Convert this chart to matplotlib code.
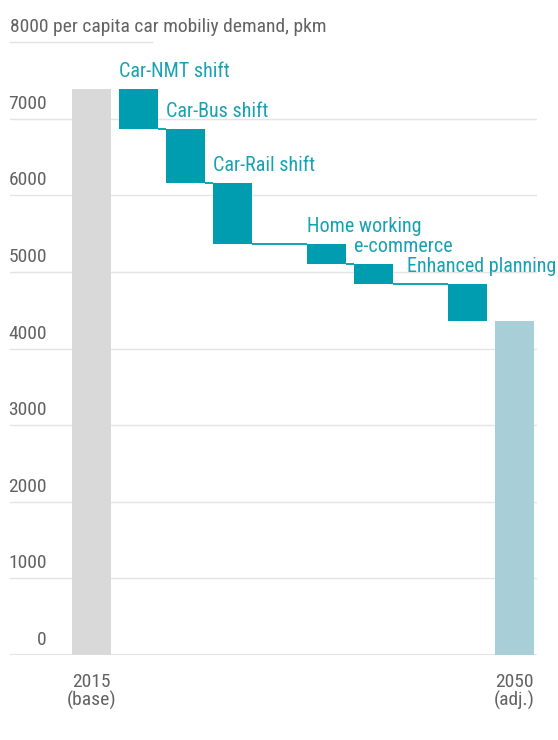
import matplotlib
matplotlib.use("Agg")
import matplotlib.pyplot as plt
from matplotlib import font_manager as fm
from matplotlib.transforms import blended_transform_factory, ScaledTranslation

# ---- data ----
base_label = "2015\n(base)"
final_label = "2050\n(adj.)"
base_value = 7390
step_labels = ["Car-NMT shift", "Car-Bus shift", "Car-Rail shift", "",
               "Home working", "e-commerce", "", "Enhanced planning"]
step_values = [-525, -700, -805, 0, -255, -265, 0, -475]
y_ticks = [0, 1000, 2000, 3000, 4000, 5000, 6000, 7000]
y_title = "8000 per capita car mobiliy demand, pkm"

# ---- font choice: prefer a narrow sans ----
def _is_regular(f):
    return f.style == "normal" and f.weight in (400, "normal", "regular")

cands = []
for f in fm.fontManager.ttflist:
    nm = f.name
    if not _is_regular(f) or "Mono" in nm or "Serif" in nm:
        continue
    cond = (f.stretch in ("condensed", "semi-condensed")
            or "Condensed" in nm or "Narrow" in nm)
    if not cond or "Extra" in nm or "Semi" in nm:
        continue
    if "Roboto" in nm:
        rank = 0
    elif "Noto" in nm:
        rank = 1
    elif "Open" in nm:
        rank = 2
    elif "Liberation" in nm:
        rank = 3
    else:
        rank = 5
    cands.append((rank, f.fname))
cands.sort()
FONT_FILE = cands[0][1] if cands else None
IS_DEJAVU = FONT_FILE is None or "DejaVu" in FONT_FILE
SCALE = 0.87 if IS_DEJAVU else 1.0


def FP(size):
    if FONT_FILE:
        return fm.FontProperties(fname=FONT_FILE, size=size * SCALE)
    return fm.FontProperties(family="DejaVu Sans", size=size * SCALE)


# ---- style ----
TEAL = "#009db0"
TEAL_TXT = "#17a2b4"
BASE_C = "#d9d9d9"
FINAL_C = "#a8ced8"
GRID_C = "#e4e4e4"
TXT_C = "#626262"

W, H = 558, 740
fig = plt.figure(figsize=(W / 100, H / 100), dpi=100)
px_left, px_right, px_bottom, px_top = 10, 537, 655, 42.2
ax = fig.add_axes([px_left / W, (H - px_bottom) / H,
                   (px_right - px_left) / W, (px_bottom - px_top) / H])
slot = 47.0
x0 = 91.5
ax.set_xlim((px_left - x0) / slot, (px_right - x0) / slot)
ax.set_ylim(0, 8000)
ax.axis("off")

bw = 39 / slot

# gridlines
for t in y_ticks:
    ax.axhline(t, color=GRID_C, lw=1.6 if t == 0 else 1.0, zorder=0)
ax.axhline(8000, xmin=0, xmax=(152 - px_left) / (px_right - px_left),
           color=GRID_C, lw=1.0, zorder=0, clip_on=False)

# bars
n = len(step_values)
ax.bar(0, base_value, width=bw, color=BASE_C, zorder=2)
level = base_value
steps = []
for i, (lab, v) in enumerate(zip(step_labels, step_values)):
    xi = i + 1
    top = level
    level = level + v
    if v != 0:
        ax.bar(xi, top - level, bottom=level, width=bw, color=TEAL, zorder=2)
        steps.append((xi, top, level, lab))
final_value = level
ax.bar(n + 1, final_value, width=bw, color=FINAL_C, zorder=2)

# connectors
for (xa, ta, ba, la), (xb, tb, bb, lb) in zip(steps[:-1], steps[1:]):
    ax.plot([xa + bw / 2, xb - bw / 2], [ba, ba], color=TEAL, lw=1.3,
            zorder=2, solid_capstyle="butt")

# step labels
up = ScaledTranslation(0, 12 / 100, fig.dpi_scale_trans)
for k, (xi, top, bot, lab) in enumerate(steps):
    if k == len(steps) - 1:
        tr = blended_transform_factory(fig.transFigure, ax.transData) + up
        ax.text(556 / W, top, lab, transform=tr, ha="right", va="baseline",
                color=TEAL_TXT, fontproperties=FP(14.5))
    else:
        ax.text(xi - bw / 2, top, lab, transform=ax.transData + up,
                ha="left", va="baseline", color=TEAL_TXT,
                fontproperties=FP(14.5))

# y labels
yup = ScaledTranslation(0, 10 / 100, fig.dpi_scale_trans)
ytr = ax.get_yaxis_transform() + yup
for t in y_ticks:
    ax.text((47 - px_left) / (px_right - px_left), t, f"{t}", transform=ytr,
            ha="right", va="baseline", color=TXT_C, fontproperties=FP(14))
ax.text(0, 8000, y_title,
        transform=ax.get_yaxis_transform() + ScaledTranslation(0, 10.5 / 100, fig.dpi_scale_trans),
        ha="left", va="baseline", color=TXT_C, fontproperties=FP(14))

# x labels
xtr = blended_transform_factory(ax.transData, fig.transFigure)
for xi, lab in [(0, base_label), (n + 1, final_label)]:
    ax.text(xi, (H - 673) / H, lab, transform=xtr, ha="center", va="top",
            color=TXT_C, linespacing=1.0, fontproperties=FP(14))

fig.savefig("out.png", dpi=100)
